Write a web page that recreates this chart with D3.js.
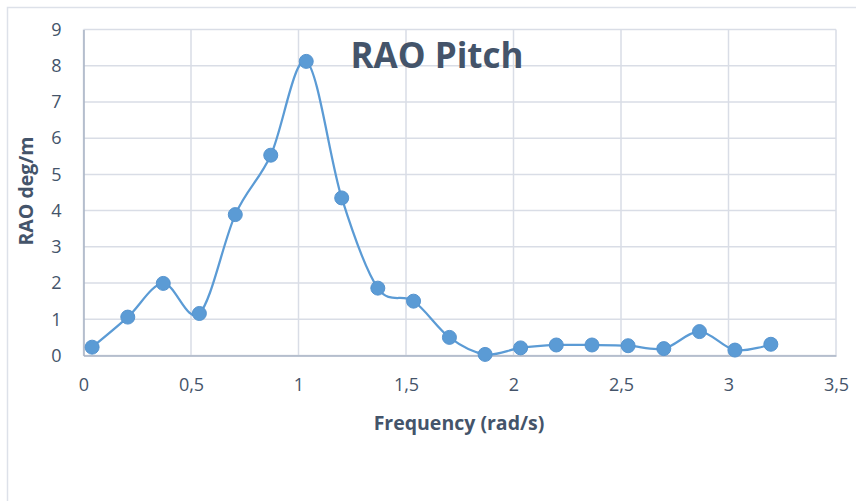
<!DOCTYPE html>
<html>
<head>
<meta charset="utf-8">
<script src="https://cdn.jsdelivr.net/npm/d3@7"></script>
<style>
  body { margin: 0; background: #fff; }
  svg { display: block; font-family: "Open Sans", sans-serif; }
</style>
</head>
<body>
<svg id="chart" width="856" height="501"></svg>
<script>
// data
var freq = [0.04, 0.206, 0.371, 0.539, 0.706, 0.871, 1.036, 1.201, 1.369, 1.535,
            1.702, 1.868, 2.033, 2.199, 2.365, 2.533, 2.699, 2.865, 3.03, 3.197]
var rao = [0.23, 1.06, 1.99, 1.16, 3.89, 5.53, 8.12, 4.35, 1.86, 1.5,
           0.5, 0.03, 0.21, 0.29, 0.29, 0.27, 0.19, 0.66, 0.15, 0.31]
var xTicks = [0, 0.5, 1, 1.5, 2, 2.5, 3, 3.5]
var yTicks = [0, 1, 2, 3, 4, 5, 6, 7, 8, 9]

var svg = d3.select("#chart")
var plot = { left: 83.5, top: 29.5, right: 836, bottom: 355.5 }
var textColor = "#44546a"
var gridColor = "#d9dde6"
var lineColor = "#5b9bd5"

// outer chart frame (only top and left visible)
svg.append("path")
   .attr("d", "M7.5,501 L7.5,7.5 L856,7.5")
   .attr("fill", "none")
   .attr("stroke", "#dde1e9")
   .attr("stroke-width", 1.5)

var x = d3.scaleLinear().domain([0, 3.5]).range([plot.left, plot.right])
var y = d3.scaleLinear().domain([0, 9]).range([plot.bottom, plot.top])

// gridlines
svg.append("g")
   .selectAll("line.h")
   .data(yTicks)
   .join("line")
   .attr("x1", plot.left).attr("x2", plot.right)
   .attr("y1", function (d) { return y(d) }).attr("y2", function (d) { return y(d) })
   .attr("stroke", gridColor).attr("stroke-width", 1.5)

svg.append("g")
   .selectAll("line.v")
   .data(xTicks)
   .join("line")
   .attr("x1", function (d) { return x(d) }).attr("x2", function (d) { return x(d) })
   .attr("y1", plot.top).attr("y2", plot.bottom)
   .attr("stroke", gridColor).attr("stroke-width", 1.5)

// axes
var fmt = function (d) { return String(d).replace(".", ",") }

var xAxis = svg.append("g")
   .attr("transform", "translate(0," + plot.bottom + ")")
   .call(d3.axisBottom(x).tickValues(xTicks).tickFormat(fmt).tickSize(0).tickPadding(23))
xAxis.select(".domain").attr("stroke", "#a9b3c4").attr("stroke-width", 1.5)

var yAxis = svg.append("g")
   .attr("transform", "translate(" + plot.left + ",0)")
   .call(d3.axisLeft(y).tickValues(yTicks).tickSize(0).tickPadding(22))
yAxis.select(".domain").attr("stroke", "#a9b3c4").attr("stroke-width", 1.5)

svg.selectAll(".tick text")
   .attr("fill", textColor)
   .attr("font-size", 18)
   .attr("font-family", "Open Sans, sans-serif")

// smoothed line
var line = d3.line()
   .x(function (d, i) { return x(freq[i]) })
   .y(function (d) { return y(d) })
   .curve(d3.curveCardinal.tension(0))

svg.append("path")
   .datum(rao)
   .attr("d", line)
   .attr("fill", "none")
   .attr("stroke", lineColor)
   .attr("stroke-width", 2.25)

svg.append("g")
   .selectAll("circle")
   .data(rao)
   .join("circle")
   .attr("cx", function (d, i) { return x(freq[i]) })
   .attr("cy", function (d) { return y(d) })
   .attr("r", 7)
   .attr("fill", lineColor)
   .attr("stroke", "#5694cf")
   .attr("stroke-width", 1)

// titles
svg.append("text")
   .attr("x", 437)
   .attr("y", 68)
   .attr("text-anchor", "middle")
   .attr("font-size", 35)
   .attr("font-weight", "bold")
   .attr("fill", textColor)
   .text("RAO Pitch")

svg.append("text")
   .attr("x", 459)
   .attr("y", 430)
   .attr("text-anchor", "middle")
   .attr("font-size", 19.5)
   .attr("font-weight", "bold")
   .attr("fill", textColor)
   .text("Frequency (rad/s)")

svg.append("text")
   .attr("transform", "translate(33,191) rotate(-90)")
   .attr("text-anchor", "middle")
   .attr("font-size", 19.5)
   .attr("font-weight", "bold")
   .attr("fill", textColor)
   .text("RAO deg/m")
</script>
</body>
</html>
